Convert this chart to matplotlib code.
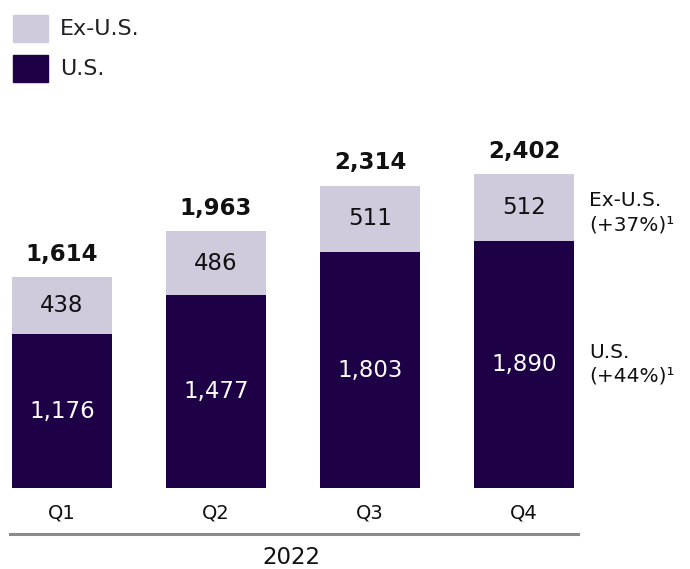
import matplotlib
matplotlib.use("Agg")
import matplotlib.pyplot as plt
from matplotlib.patches import Rectangle
import numpy as np

quarters = ["Q1", "Q2", "Q3", "Q4"]
us = [1176, 1477, 1803, 1890]
exus = [438, 486, 511, 512]
totals = [1614, 1963, 2314, 2402]
year_label = "2022"

C_US = "#1E0046"
C_EX = "#CFCBDD"

W, H = 690, 569
fig = plt.figure(figsize=(W / 100, H / 100), dpi=100)

# axes placed in pixel space: left 0..580 px, bottom at y=488 px, top at y=100 px
ax_left, ax_right, ax_bot, ax_top = 0, 580, 488, 100
ax = fig.add_axes([ax_left / W, 1 - ax_bot / H, (ax_right - ax_left) / W, (ax_bot - ax_top) / H])
ax.set_axis_off()
spacing = 154.0
c0 = 62.0
ax.set_xlim((ax_left - c0) / spacing, (ax_right - c0) / spacing)
scale = (488 - 174) / 2402.0
ax.set_ylim(0, (ax_bot - ax_top) / scale)

x = np.arange(len(quarters))
bw = 100 / spacing
ax.bar(x, us, width=bw, color=C_US, edgecolor="none")
ax.bar(x, exus, width=bw, bottom=us, color=C_EX, edgecolor="none")

for i in range(len(quarters)):
    ax.text(x[i], us[i] / 2, f"{us[i]:,}", ha="center", va="center",
            color="white", fontsize=16.5)
    ax.text(x[i], us[i] + exus[i] / 2, f"{exus[i]:,}", ha="center", va="center",
            color="#111111", fontsize=16.5)
    ax.text(x[i], totals[i] + 23 / scale, f"{totals[i]:,}", ha="center",
            va="center", color="#111111", fontsize=16.5, fontweight="bold")
    fig.text((c0 + spacing * i) / W, 1 - 513 / H, quarters[i], ha="center",
             va="center", fontsize=14, color="#111111")

# separator line and year
fig.add_artist(plt.Line2D([10 / W, 578 / W], [1 - 534 / H, 1 - 534 / H],
                          color="#8A8A8A", lw=2.2))
fig.text(291 / W, 1 - 557 / H, year_label, ha="center", va="center",
         fontsize=16.5, color="#111111")

# legend
fig.add_artist(Rectangle((13 / W, 1 - 42 / H), 35 / W, 27 / H, color=C_EX,
                         transform=fig.transFigure))
fig.add_artist(Rectangle((13 / W, 1 - 82 / H), 35 / W, 27 / H, color=C_US,
                         transform=fig.transFigure))
fig.text(60 / W, 1 - 29 / H, "Ex-U.S.", ha="left", va="center", fontsize=16,
         color="#222222")
fig.text(60 / W, 1 - 69 / H, "U.S.", ha="left", va="center", fontsize=16,
         color="#222222")

# right-side annotations
fig.text(589 / W, 1 - 200 / H, "Ex-U.S.", ha="left", va="center", fontsize=14.5,
         color="#111111")
fig.text(589 / W, 1 - 225 / H, "(+37%)\u00b9", ha="left", va="center",
         fontsize=14.5, color="#111111")
fig.text(589 / W, 1 - 352 / H, "U.S.", ha="left", va="center", fontsize=14.5,
         color="#111111")
fig.text(589 / W, 1 - 376 / H, "(+44%)\u00b9", ha="left", va="center",
         fontsize=14.5, color="#111111")

fig.savefig("out.png", dpi=100, facecolor="white")
